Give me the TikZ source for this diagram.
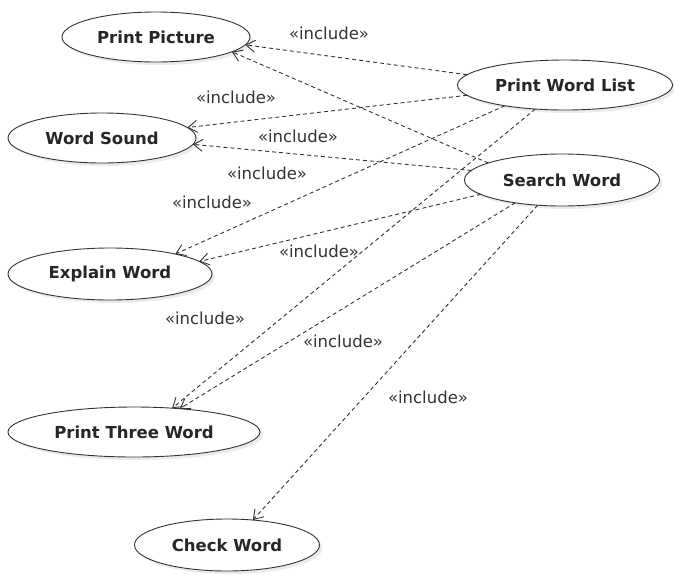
\documentclass[tikz,border=0pt]{standalone}
\usepackage{fontspec}
\setmainfont{DejaVu Sans}
\usetikzlibrary{arrows.meta,shapes.geometric,shadows}

\begin{document}
\begin{tikzpicture}[x=1pt, y=-1pt,
    uc/.style={ellipse, draw=black!80, line width=0.9pt, fill=white, inner sep=0pt, outer sep=0pt,
        drop shadow={shadow xshift=3pt, shadow yshift=-3pt, opacity=0.2, fill=black!40},
        text=black!85, font=\fontsize{16.5}{18}\selectfont\bfseries},
    inc/.style={draw=black!80, line width=0.9pt, dash pattern=on 4pt off 3pt, -{Straight Barb[length=9pt, width=12pt]}},
    lbl/.style={text=black!80, font=\fontsize{16.5}{18}\selectfont}]
    \useasboundingbox (0,0) rectangle (674,574);

    % use cases
    \node[uc, minimum width=188, minimum height=50] (pp)  at (156,37)  {Print Picture};
    \node[uc, minimum width=188, minimum height=50] (ws)  at (102,138) {Word Sound};
    \node[uc, minimum width=204, minimum height=52] (ew)  at (110,274) {Explain Word};
    \node[uc, minimum width=252, minimum height=50] (ptw) at (134,432) {Print Three Word};
    \node[uc, minimum width=185, minimum height=52] (cw)  at (227,545) {Check Word};
    \node[uc, minimum width=215, minimum height=50] (pwl) at (565,85)  {Print Word List};
    \node[uc, minimum width=195, minimum height=52] (sw)  at (562,180) {Search Word};

    % include relations
    \draw[inc] (pwl.174) -- (pp.-5);
    \draw[inc] (pwl.186) -- (ws.7);
    \draw[inc] (pwl.199) -- (ew.17);
    \draw[inc] (pwl.219) -- (ptw.32);
    \draw[inc] (sw.167) -- (pp.-11);
    \draw[inc] (sw.174) -- (ws.-4);
    \draw[inc] (sw.190) -- (ew.8);
    \draw[inc] (sw.206) -- (ptw.27);
    \draw[inc] (sw.226) -- (cw.44);

    \node[lbl] (l1) at (329,33)  {«include»};
    \node[lbl] (l2) at (236,97)  {«include»};
    \node[lbl] (l3) at (298,136) {«include»};
    \node[lbl] (l4) at (267,173) {«include»};
    \node[lbl] (l5) at (212,202) {«include»};
    \node[lbl] (l6) at (319,251) {«include»};
    \node[lbl] (l7) at (205,318) {«include»};
    \node[lbl] (l8) at (343,341) {«include»};
    \node[lbl] (l9) at (428,397) {«include»};
\end{tikzpicture}
\end{document}
